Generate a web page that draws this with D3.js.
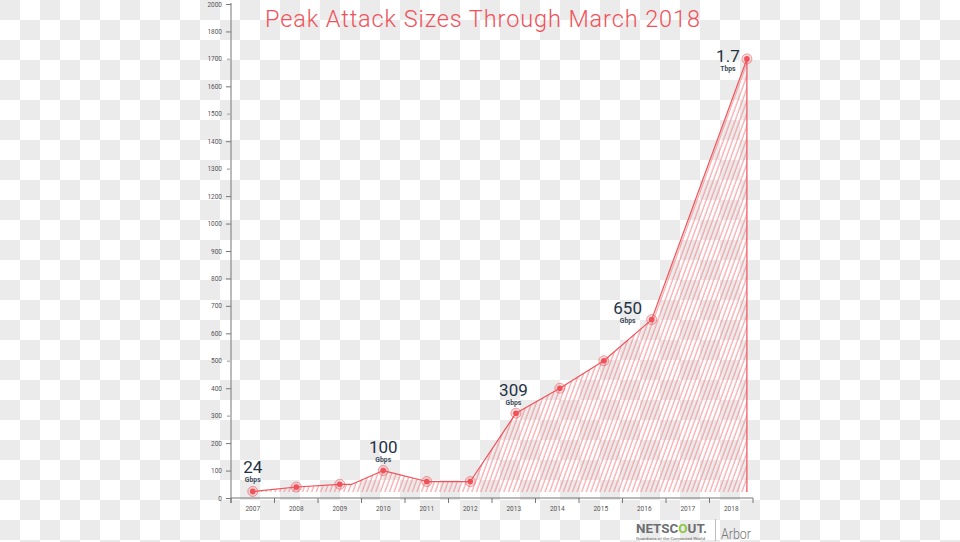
<!DOCTYPE html>
<html>
<head>
<meta charset="utf-8">
<script src="https://cdn.jsdelivr.net/npm/d3@7"></script>
<style>
  html, body { margin: 0; padding: 0; background: #fff; }
  svg { display: block; }
</style>
</head>
<body>
<svg id="chart" width="960" height="542"></svg>
<script>
// ---------------- DATA ----------------
const years = ["2007","2008","2009","2010","2011","2012","2013","2014","2015","2016","2017","2018"];
const yTickValues = [0,100,200,300,400,500,600,700,800,900,1000,1200,1300,1400,1500,1600,1700,1800,2000];
const yTickLabels = ["0","100","200","300","400","500","600","700","800","900","1000","1200","1300","1400","1500","1600","1700","1800","2000"];
// measured peaks (decimal year of each point, Gbps)
const peakDates  = [2007, 2008, 2009, 2010, 2011, 2012, 2013.05, 2014.06, 2015.07, 2016.17, 2018.36];
const peakValues = [24, 40, 50, 100, 60, 60, 309, 400, 500, 650, 1700];
// extra bend of the line (no marker)
const bendDates  = [2009.28];
const bendValues = [50];
// annotated peaks
const labelPoint = [0, 3, 6, 9, 10];
const labelText  = ["24", "100", "309", "650", "1.7"];
const labelUnit  = ["Gbps", "Gbps", "Gbps", "Gbps", "Tbps"];
const titleText = "Peak Attack Sizes Through March 2018";

(function () {
// ---------------- LAYOUT ----------------
const svg = d3.select("#chart");
const W = 960, H = 542;
const mLeft = 231, mRight = 753, mTop = 4, mBottom = 498;
const red = "#f0525a";
const font = "Roboto, 'Liberation Sans', sans-serif";

// checkerboard background
const defs = svg.append("defs");
const chk = defs.append("pattern").attr("id", "chk").attr("patternUnits", "userSpaceOnUse")
  .attr("width", 40).attr("height", 40);
chk.append("rect").attr("width", 40).attr("height", 40).attr("fill", "#ffffff");
chk.append("rect").attr("x", 0).attr("y", 0).attr("width", 20).attr("height", 20).attr("fill", "#ebebeb");
chk.append("rect").attr("x", 20).attr("y", 20).attr("width", 20).attr("height", 20).attr("fill", "#ebebeb");
svg.append("rect").attr("width", W).attr("height", H).attr("fill", "url(#chk)");

// hatch pattern
const hatch = defs.append("pattern").attr("id", "hatch").attr("patternUnits", "userSpaceOnUse")
  .attr("width", 4.3).attr("height", 10).attr("patternTransform", "rotate(20)");
hatch.append("line").attr("x1", 1).attr("x2", 1).attr("y1", 0).attr("y2", 10)
  .attr("stroke", "#f4858a").attr("stroke-width", 0.9);

// scales
const xBand = d3.scaleBand().domain(years).range([mLeft, mRight]);
const bw = xBand.bandwidth();
const x = d3.scaleLinear().domain([2007, 2018]).range([mLeft + bw / 2, mRight - bw / 2]);
const step = (mBottom - mTop) / (yTickValues.length - 1);
const y = d3.scaleLinear().domain(yTickValues).range(yTickValues.map((_, i) => mBottom - i * step));

// line data
const linePts = peakDates.map((d, i) => ({ d, v: peakValues[i] }))
  .concat(bendDates.map((d, i) => ({ d, v: bendValues[i] })))
  .sort((a, b) => a.d - b.d);
const base = y(0) - 6;

// area (hatched)
const area = d3.area().x(p => x(p.d)).y0(base).y1(p => y(p.v));
svg.append("path").datum(linePts).attr("d", area).attr("fill", "url(#hatch)");

// line
const line = d3.line().x(p => x(p.d)).y(p => y(p.v));
svg.append("path").datum(linePts).attr("d", line).attr("fill", "none")
  .attr("stroke", red).attr("stroke-width", 1.2).attr("stroke-linejoin", "round");
const last = linePts[linePts.length - 1];
svg.append("line").attr("x1", x(last.d)).attr("x2", x(last.d)).attr("y1", y(last.v)).attr("y2", base)
  .attr("stroke", red).attr("stroke-width", 1.2);

// y axis
const yAxis = d3.axisLeft(y).tickValues(yTickValues)
  .tickFormat((d, i) => yTickLabels[i]).tickSize(5).tickSizeOuter(0).tickPadding(4);
const gy = svg.append("g").attr("transform", `translate(${mLeft},0)`).call(yAxis);
gy.select(".domain").attr("stroke", "#777").attr("d", `M0,${mTop - 1}V${mBottom + 5}`);
const faint = new Set([1700, 1500, 1300, 500, 300]);
gy.selectAll(".tick line").attr("stroke", d => faint.has(d) ? "#bbb" : "#777")
  .attr("stroke-width", d => faint.has(d) ? 1.6 : 1)
  .attr("x1", d => faint.has(d) ? -1 : 0).attr("x2", d => faint.has(d) ? -4 : -5);
gy.selectAll(".tick text").attr("font-family", font).attr("font-size", 6.5).attr("fill", "#555");

// x axis
const xAxis = d3.axisBottom(xBand).tickSize(0).tickPadding(8);
const gx = svg.append("g").attr("transform", `translate(0,${mBottom})`).call(xAxis);
gx.select(".domain").attr("stroke", "#777").attr("d", `M${mLeft},0H${mRight}`);
gx.selectAll(".tick text").attr("font-family", font).attr("font-size", 6.5).attr("fill", "#555")
  .attr("dy", "0.71em");
// boundary ticks
const bounds = years.map(yr => xBand(yr)).concat([mRight]);
svg.append("g").selectAll("line").data(bounds).join("line")
  .attr("x1", d => d).attr("x2", d => d).attr("y1", mBottom).attr("y2", mBottom + 5)
  .attr("stroke", "#777");

// markers
const mk = svg.append("g");
peakDates.forEach((d, i) => {
  mk.append("circle").attr("cx", x(d)).attr("cy", y(peakValues[i])).attr("r", 5)
    .attr("fill", "rgba(240,82,90,0.18)").attr("stroke", "rgba(240,82,90,0.55)").attr("stroke-width", 1);
  mk.append("circle").attr("cx", x(d)).attr("cy", y(peakValues[i])).attr("r", 2.8).attr("fill", red);
});

// annotations
const labelDx = [0, 0, -2.5, -24, -19];
const labelDy = [-18.5, -18, -17.5, -5.5, 3.5];
const lab = svg.append("g");
labelPoint.forEach((pi, k) => {
  const px = x(peakDates[pi]) + labelDx[k], py = y(peakValues[pi]) + labelDy[k];
  lab.append("text").attr("x", px).attr("y", py).attr("text-anchor", "middle")
    .attr("font-family", font).attr("font-size", 17).attr("fill", "#1e3245").text(labelText[k]);
  lab.append("text").attr("x", px).attr("y", py + 9).attr("text-anchor", "middle")
    .attr("font-family", font).attr("font-size", 6.8).attr("font-weight", 700)
    .attr("fill", "#3c4b5b").text(labelUnit[k]);
});

// title
svg.append("text").attr("x", 482.5).attr("y", 27).attr("text-anchor", "middle")
  .attr("font-family", font).attr("font-weight", 300).attr("font-size", 23.5)
  .attr("fill", red).attr("textLength", 435).attr("lengthAdjust", "spacing").text(titleText);

// logo
const logo = svg.append("g");
const ns = logo.append("text").attr("x", 636).attr("y", 533).attr("font-family", font)
  .attr("font-weight", 700).attr("font-size", 13.5).attr("fill", "#6d6e71")
  .attr("textLength", 71).attr("lengthAdjust", "spacingAndGlyphs");
ns.append("tspan").text("NETSC");
ns.append("tspan").attr("fill", "#8cc63f").text("O");
ns.append("tspan").text("UT.");
logo.append("text").attr("x", 636).attr("y", 540).attr("font-family", font).attr("font-size", 4.4)
  .attr("fill", "#666").attr("textLength", 69).attr("lengthAdjust", "spacingAndGlyphs")
  .text("Guardians of the Connected World");
logo.append("line").attr("x1", 715.5).attr("x2", 715.5).attr("y1", 519).attr("y2", 541)
  .attr("stroke", "#bbb").attr("stroke-width", 1);
logo.append("text").attr("x", 721).attr("y", 538.5).attr("font-family", font).attr("font-weight", 300)
  .attr("font-size", 15).attr("fill", "#777").attr("textLength", 30).attr("lengthAdjust", "spacingAndGlyphs")
  .text("Arbor");
})();
</script>
</body>
</html>
